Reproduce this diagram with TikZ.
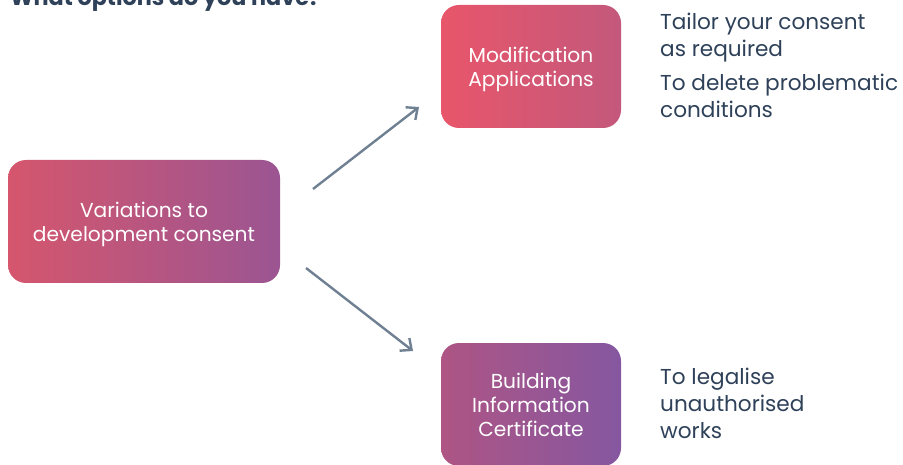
\documentclass[tikz,border=0pt]{standalone}
\usepackage{fontspec}
\setmainfont{Poppins}
\usetikzlibrary{arrows.meta}
\definecolor{ink}{HTML}{2E4159}
\definecolor{arr}{HTML}{6F8092}
\definecolor{lA}{HTML}{D5566D}
\definecolor{rA}{HTML}{9B5592}
\definecolor{lB}{HTML}{E8566A}
\definecolor{rB}{HTML}{C3587C}
\definecolor{lC}{HTML}{AE5584}
\definecolor{rC}{HTML}{8557A0}
\newcommand\lowertext[1]{\raisebox{-3pt}[\height][\depth]{\begin{tabular}{@{}c@{}}#1\end{tabular}}}
\tikzset{
  box/.style={rounded corners=18pt, inner sep=0pt, text=white, align=center,
    font=\fontsize{20.2}{24}\selectfont},
  side/.style={anchor=base west, inner sep=0pt, text=ink, align=left,
    font=\fontsize{21.6}{27}\selectfont},
  conn/.style={draw=arr, line width=2.4pt, -{Straight Barb[length=9pt,width=16pt,line width=2.4pt]}},
}
\begin{document}
\begin{tikzpicture}[x=1pt,y=-1pt]
\useasboundingbox (0,0) rectangle (903,465);
\clip (0,0) rectangle (903,465);
\node[anchor=base west, inner sep=0pt, text=ink, font=\fontsize{22.3}{26}\bfseries\selectfont] (title) at (10,6) {What options do you have?};
\node[box, minimum width=272pt, minimum height=123pt, left color=lA, right color=rA] (var) at (144,221.5) {\lowertext{Variations to\\development consent}};
\node[box, minimum width=180pt, minimum height=123pt, left color=lB, right color=rB] (mod) at (531,66.5) {\lowertext{Modification\\Applications}};
\node[box, minimum width=180pt, minimum height=123pt, left color=lC, right color=rC] (bic) at (531,404.5) {Building\\Information\\Certificate};
\node[side] (t1) at (660,57) {Tailor your consent\\as required};
\node[side] (t2) at (660,118) {To delete problematic\\conditions};
\node[side] (t3) at (660,438) {To legalise\\unauthorised\\works};
\coordinate (s1) at (313,189);
\coordinate (e1) at (419,107);
\coordinate (s2) at (306,268);
\coordinate (e2) at (413,351);
\draw[conn] (s1) -- (e1);
\draw[conn] (s2) -- (e2);
\end{tikzpicture}
\end{document}
